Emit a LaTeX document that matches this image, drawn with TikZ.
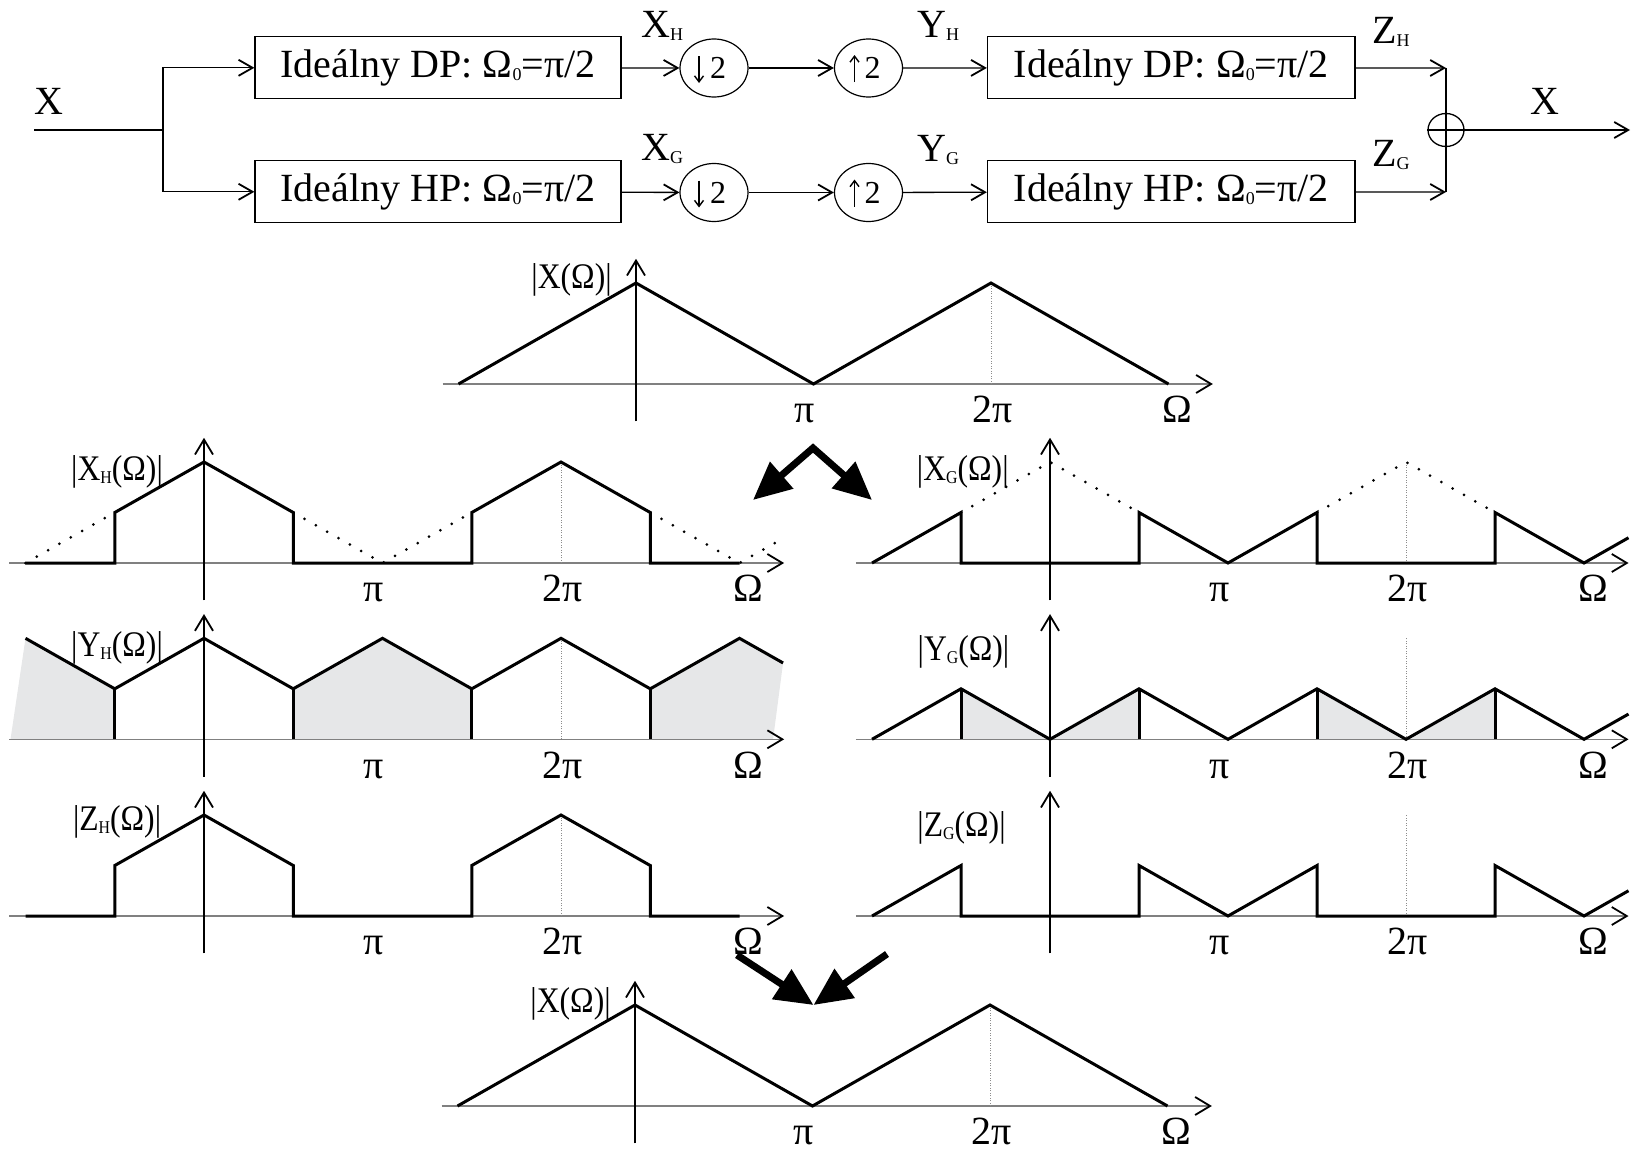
\documentclass[tikz,border=0pt]{standalone}
\usepackage{fontspec}
\usepackage{graphicx}
\setmainfont{Liberation Serif}
\usetikzlibrary{arrows.meta,shapes.geometric}
\definecolor{grayfill}{HTML}{E6E7E8}
\newcommand\sbx[1]{\raisebox{-3pt}{\fontsize{18}{18}\selectfont #1}}
\newcommand\cnd[1]{\scalebox{0.88}[1]{#1}}
\tikzset{
 blk/.style={draw, line width=1.3pt, minimum width=366pt, minimum height=62pt, inner sep=0pt, font=\fontsize{40}{48}\selectfont},
 rsm/.style={draw, ellipse, line width=1.2pt, minimum width=68pt, minimum height=58pt, inner sep=0pt, font=\fontsize{32}{36}\selectfont},
 conn/.style={line width=1.3pt},
 arr/.style={conn, -{Straight Barb[length=14pt,width=16pt,line width=1.8pt]}},
 smallarr/.style={line width=1.4pt, -{Straight Barb[length=6pt,width=9pt,line width=1.4pt]}},
 sig/.style={font=\fontsize{40}{48}\selectfont, inner sep=0pt},
 haxis/.style={line width=1.5pt, black!50, -{Straight Barb[length=15pt,width=18pt,black,line width=1.8pt]}},
 vaxis/.style={line width=1.2pt, black, -{Straight Barb[length=15pt,width=18pt,line width=1.8pt]}},
 spec/.style={line width=3pt},
 dotv/.style={line width=0.8pt, black!45, dash pattern=on 1pt off 1.5pt},
 dotc/.style={line width=3pt, line cap=round, dash pattern=on 0pt off 13pt},
 shade/.style={fill=grayfill},
 axlbl/.style={font=\fontsize{40}{48}\selectfont, anchor=base, inner sep=0pt},
 plbl/.style={font=\fontsize{36}{42}\selectfont, anchor=base, inner sep=0pt},
 bigarr/.style={line width=7pt, -{Triangle[length=38pt,width=34pt]}},
}
\newcommand\spaxes[4]{%
 \draw[haxis] (-1.09,0) -- (3.25,0);
 \draw[vaxis] (0,-0.37) -- (0,1.24);
 \node[axlbl] (#1pi) at (0.95,-0.385) {π};
 \node[axlbl] (#1tpi) at (2.01,-0.385) {2π};
 \node[axlbl] (#1om) at (3.05,-0.385) {Ω};
 \node[plbl] (#1lb) at (#3,#4) {\cnd{#2}};
}
\begin{document}
\begin{tikzpicture}[x=1pt,y=-1pt]
\useasboundingbox (0,0) rectangle (1633,1154);
% ---------------- block diagram ----------------
\node[sig] (xin) at (48.5,101.7) {X};
\node[sig] (xout) at (1545,101.7) {X};
\coordinate (in) at (34,130);
\coordinate (br) at (163,130);
\node[blk] (dp1) at (438,67.8) {Ideálny DP: Ω\sbx{0}=π/2};
\node[blk] (hp1) at (438,191.8) {Ideálny HP: Ω\sbx{0}=π/2};
\node[rsm] (d1) at (714,68) {\hspace*{8pt}2};
\node[rsm] (d2) at (714,192.5) {\hspace*{8pt}2};
\node[rsm] (u1) at (868.5,68) {\hspace*{8pt}2};
\node[rsm] (u2) at (868.5,192.5) {\hspace*{8pt}2};
\draw[smallarr] ([shift={(-15pt,12pt)}]d1.center) -- ([shift={(-15pt,-15pt)}]d1.center);
\draw[smallarr] ([shift={(-15pt,12pt)}]d2.center) -- ([shift={(-15pt,-15pt)}]d2.center);
\draw[smallarr] ([shift={(-14pt,-14pt)}]u1.center) -- ([shift={(-14pt,13pt)}]u1.center);
\draw[smallarr] ([shift={(-14pt,-14pt)}]u2.center) -- ([shift={(-14pt,13pt)}]u2.center);
\node[blk, minimum width=367.5pt] (dp2) at (1171.25,67.8) {Ideálny DP: Ω\sbx{0}=π/2};
\node[blk, minimum width=367.5pt] (hp2) at (1171.25,191.8) {Ideálny HP: Ω\sbx{0}=π/2};
\node[draw, ellipse, minimum width=36pt, minimum height=33pt, inner sep=0pt, line width=1.3pt] (sum) at (1446,130) {};
\coordinate (jH) at (1446,68);
\coordinate (jG) at (1446,192);
\coordinate (out) at (1630,130);
\node[sig, anchor=base west] (lXH) at (641,37) {X\sbx{H}};
\node[sig, anchor=base west] (lXG) at (641,160) {X\sbx{G}};
\node[sig, anchor=base west] (lYH) at (917,37) {Y\sbx{H}};
\node[sig, anchor=base west] (lYG) at (917,161) {Y\sbx{G}};
\node[sig, anchor=base west] (lZH) at (1372,43) {Z\sbx{H}};
\node[sig, anchor=base west] (lZG) at (1372,166) {Z\sbx{G}};
\draw[conn] (in) -- (br);
\draw[arr] (br) |- (dp1.west);
\draw[arr] (br) |- (hp1.west);
\draw[arr] (dp1) -- (d1);
\draw[arr] (d1) -- (u1);
\draw[arr] (u1) -- (dp2);
\draw[arr] (hp1) -- (d2);
\draw[arr] (d2) -- (u2);
\draw[arr] (u2) -- (hp2);
\draw[arr] (dp2) -- (jH);
\draw[arr] (hp2) -- (jG);
\draw[conn] (jH) -- (sum.north);
\draw[conn] (sum.south) -- (jG);
\draw[line width=2.5pt] (sum.west) -- (sum.east) (sum.north) -- (sum.south);
\draw[arr] (sum) -- (out);
% ---------------- |X| top ----------------
\begin{scope}[shift={(636pt,-384pt)}, x=177.5pt, y=101pt]
 \spaxes{a}{|X(Ω)|}{-0.363}{0.95}
 \draw[dotv] (2,0) -- (2,1);
 \draw[spec] (-1,0) -- (0,1) -- (1,0) -- (2,1) -- (3,0);
\end{scope}
% ---------------- X_H ----------------
\begin{scope}[shift={(204pt,-563pt)}, x=178.5pt, y=101pt]
 \spaxes{b}{|X\sbx{H}(Ω)|}{-0.487}{0.82}
 \draw[dotv] (2,0) -- (2,1);
 \draw[dotc] (-1,0) -- (-0.5,0.5);
 \draw[dotc] (0.5,0.5) -- (1,0) -- (1.5,0.5);
 \draw[dotc] (2.5,0.5) -- (3,0) -- (3.24,0.24);
 \draw[spec] (-1,0) -- (-0.5,0) -- (-0.5,0.5) -- (0,1) -- (0.5,0.5) -- (0.5,0) -- (1.5,0) -- (1.5,0.5) -- (2,1) -- (2.5,0.5) -- (2.5,0) -- (3,0);
\end{scope}
% ---------------- X_G ----------------
\begin{scope}[shift={(1050pt,-563pt)}, x=178pt, y=101pt]
 \spaxes{c}{|X\sbx{G}(Ω)|}{-0.49}{0.82}
 \draw[dotv] (2,0) -- (2,1);
 \draw[dotc] (-0.5,0.5) -- (0,1) -- (0.5,0.5);
 \draw[dotc] (1.5,0.5) -- (2,1) -- (2.5,0.5);
 \draw[spec] (-1,0) -- (-0.5,0.5) -- (-0.5,0) -- (0.5,0) -- (0.5,0.5) -- (1,0) -- (1.5,0.5) -- (1.5,0) -- (2.5,0) -- (2.5,0.5) -- (3,0) -- (3.25,0.25);
\end{scope}
% ---------------- Y_H ----------------
\begin{scope}[shift={(204pt,-739.3pt)}, x=178.5pt, y=101pt]
 \fill[shade] (-1.084,0) -- (-1,1) -- (-0.5,0.5) -- (-0.5,0) -- cycle;
 \fill[shade] (0.5,0) -- (0.5,0.5) -- (1,1) -- (1.5,0.5) -- (1.5,0) -- cycle;
 \fill[shade] (2.5,0) -- (2.5,0.5) -- (3,1) -- (3.244,0.756) -- (3.188,0) -- cycle;
 \spaxes{d}{|Y\sbx{H}(Ω)|}{-0.487}{0.82}
 \draw[dotv] (2,0) -- (2,1);
 \draw[spec] (-1,1) -- (-0.5,0.5) -- (0,1) -- (0.5,0.5) -- (1,1) -- (1.5,0.5) -- (2,1) -- (2.5,0.5) -- (3,1) -- (3.244,0.756);
 \draw[spec] (-0.5,0) -- (-0.5,0.5) (0.5,0) -- (0.5,0.5) (1.5,0) -- (1.5,0.5) (2.5,0) -- (2.5,0.5);
\end{scope}
% ---------------- Y_G ----------------
\begin{scope}[shift={(1050pt,-739.3pt)}, x=178pt, y=101pt]
 \fill[shade] (-0.5,0) -- (-0.5,0.5) -- (0,0) -- (0.5,0.5) -- (0.5,0) -- cycle;
 \fill[shade] (1.5,0) -- (1.5,0.5) -- (2,0) -- (2.5,0.5) -- (2.5,0) -- cycle;
 \spaxes{e}{|Y\sbx{G}(Ω)|}{-0.486}{0.78}
 \draw[dotv] (2,0) -- (2,1);
 \draw[spec] (-1,0) -- (-0.5,0.5) -- (0,0) -- (0.5,0.5) -- (1,0) -- (1.5,0.5) -- (2,0) -- (2.5,0.5) -- (3,0) -- (3.25,0.25);
 \draw[spec] (-0.5,0) -- (-0.5,0.5) (0.5,0) -- (0.5,0.5) (1.5,0) -- (1.5,0.5) (2.5,0) -- (2.5,0.5);
\end{scope}
% ---------------- Z_H ----------------
\begin{scope}[shift={(204pt,-916pt)}, x=178.5pt, y=101pt]
 \spaxes{f}{|Z\sbx{H}(Ω)|}{-0.487}{0.85}
 \draw[dotv] (2,0) -- (2,1);
 \draw[spec] (-1,0) -- (-0.5,0) -- (-0.5,0.5) -- (0,1) -- (0.5,0.5) -- (0.5,0) -- (1.5,0) -- (1.5,0.5) -- (2,1) -- (2.5,0.5) -- (2.5,0) -- (3,0);
\end{scope}
% ---------------- Z_G ----------------
\begin{scope}[shift={(1050pt,-916pt)}, x=178pt, y=101pt]
 \spaxes{g}{|Z\sbx{G}(Ω)|}{-0.497}{0.79}
 \draw[dotv] (2,0) -- (2,1);
 \draw[spec] (-1,0) -- (-0.5,0.5) -- (-0.5,0) -- (0.5,0) -- (0.5,0.5) -- (1,0) -- (1.5,0.5) -- (1.5,0) -- (2.5,0) -- (2.5,0.5) -- (3,0) -- (3.25,0.25);
\end{scope}
% ---------------- |X| bottom ----------------
\begin{scope}[shift={(635pt,-1106pt)}, x=177.5pt, y=101pt]
 \spaxes{h}{|X(Ω)|}{-0.363}{0.93}
 \draw[dotv] (2,0) -- (2,1);
 \draw[spec] (-1,0) -- (0,1) -- (1,0) -- (2,1) -- (3,0);
\end{scope}
% ---------------- thick arrows ----------------
\coordinate (ap) at (813,448);
\coordinate (al) at (753,500);
\coordinate (ar) at (872,500);
\draw[line width=7pt, {Triangle[length=38pt,width=34pt]}-{Triangle[length=38pt,width=34pt]}] (al) -- (ap) -- (ar);
\coordinate (bl) at (737,955);
\coordinate (br2) at (887,954);
\coordinate (bt) at (813.5,1005);
\draw[bigarr] (bl) -- (bt);
\draw[bigarr] (br2) -- (bt);
\end{tikzpicture}
\end{document}
